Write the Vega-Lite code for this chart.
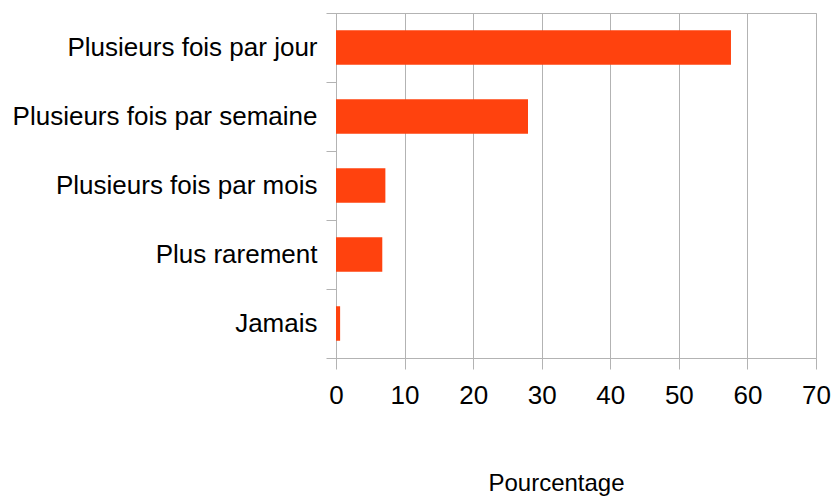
{
  "$schema": "https://vega.github.io/schema/vega-lite/v6.json",
  "autosize": "none",
  "width": 480,
  "height": 345,
  "padding": {"left": 336, "top": 13, "right": 17, "bottom": 140},
  "background": "white",
  "config": {
    "view": {"stroke": "#b3b3b3", "strokeWidth": 1},
    "font": "Liberation Sans"
  },
  "data": {
    "values": [
      {"categorie": "Plusieurs fois par jour", "pourcentage": 57.6},
      {"categorie": "Plusieurs fois par semaine", "pourcentage": 28.0},
      {"categorie": "Plusieurs fois par mois", "pourcentage": 7.2},
      {"categorie": "Plus rarement", "pourcentage": 6.75},
      {"categorie": "Jamais", "pourcentage": 0.6}
    ]
  },
  "mark": {"type": "bar", "color": "#ff420e", "height": {"band": 0.5}},
  "encoding": {
    "y": {
      "field": "categorie",
      "type": "nominal",
      "sort": null,
      "scale": {"paddingInner": 0, "paddingOuter": 0},
      "axis": {
        "title": null,
        "tickBand": "extent",
        "tickSize": 10,
        "tickColor": "#b3b3b3",
        "domainColor": "#b3b3b3",
        "labelFontSize": 26,
        "labelColor": "#000000",
        "labelPadding": 9,
        "labelLimit": 400,
        "grid": false
      }
    },
    "x": {
      "field": "pourcentage",
      "type": "quantitative",
      "scale": {"domain": [0, 70], "nice": false},
      "axis": {
        "title": "Pourcentage",
        "values": [0, 10, 20, 30, 40, 50, 60, 70],
        "grid": true,
        "gridColor": "#b3b3b3",
        "tickColor": "#b3b3b3",
        "domainColor": "#b3b3b3",
        "tickSize": 11,
        "labelFontSize": 26,
        "labelColor": "#000000",
        "labelPadding": 13,
        "labelFlush": false,
        "titleFontSize": 24,
        "titleFontWeight": "normal",
        "titleColor": "#000000",
        "titleX": 220,
        "titleY": 132,
        "titleBaseline": "alphabetic"
      }
    }
  }
}
